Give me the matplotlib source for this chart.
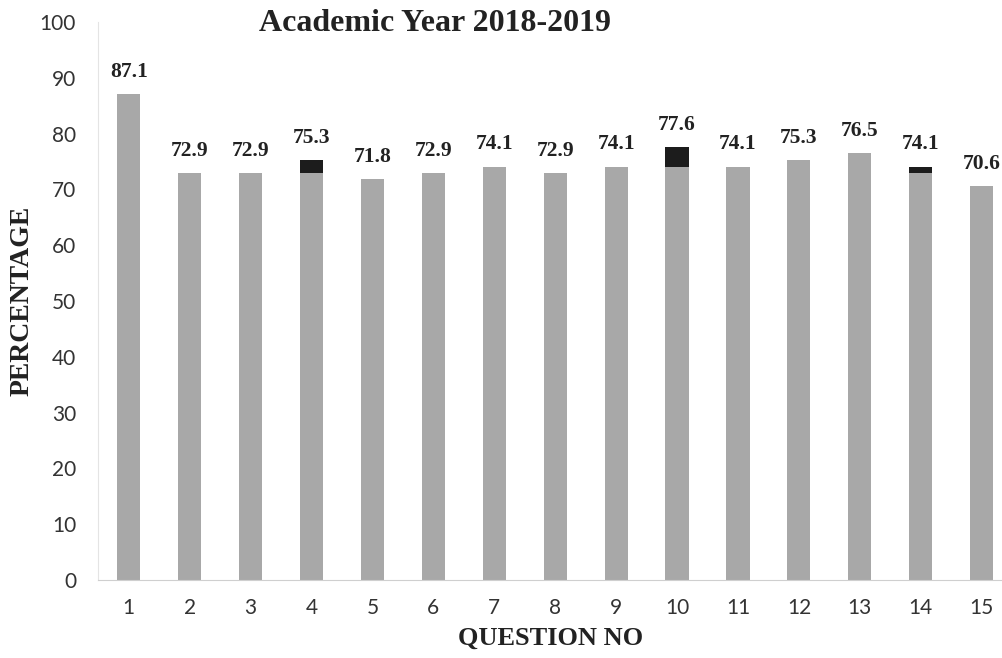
import numpy as np
import matplotlib.pyplot as plt

# question numbers and percentages (labels on top of bars)
questions = list(range(1, 16))
labels = [87.1, 72.9, 72.9, 75.3, 71.8, 72.9, 74.1, 72.9, 74.1, 77.6, 74.1, 75.3, 76.5, 74.1, 70.6]
# grey part of bar and dark part stacked on top (as seen in the scan)
grey_part = [87.1, 72.9, 72.9, 72.9, 71.8, 72.9, 74.1, 72.9, 74.1, 74.1, 74.1, 75.3, 76.5, 72.9, 70.6]
dark_part = [0, 0, 0, 2.4, 0, 0, 0, 0, 0, 3.5, 0, 0, 0, 1.2, 0]

fig = plt.figure(figsize=(10.03, 6.58), dpi=100)
ax = fig.add_axes([0.098, 0.1185, 0.902, 0.848])

x = np.array(questions)
ax.bar(x, grey_part, width=0.38, color='#a8a8a8')
ax.bar(x, dark_part, width=0.38, bottom=grey_part, color='#1c1c1c')

for xi, g, d, lab in zip(x, grey_part, dark_part, labels):
    ax.text(xi, g + d + 2.2, '%.1f' % lab, ha='center', va='bottom',
            family='Liberation Serif', fontweight='bold', fontsize=15.5, color='#222222')

ax.set_xlim(0.5, 15.35)
ax.set_ylim(0, 100)
ax.set_yticks(range(0, 101, 10))
ax.set_xticks(x)
ax.set_xticklabels([str(q) for q in questions], family='Lato', fontsize=15, color='#333333')
for t in ax.get_yticklabels():
    t.set_family('Lato')
    t.set_fontsize(15)
    t.set_color('#333333')
ax.tick_params(axis='y', length=0, pad=16)
ax.tick_params(axis='x', length=0, pad=13)

for s in ['top', 'right']:
    ax.spines[s].set_visible(False)
ax.spines['left'].set_color('#e4e4e4')
ax.spines['bottom'].set_color('#cfcfcf')

ax.set_ylabel('PERCENTAGE', family='Liberation Serif', fontweight='bold', fontsize=20,
              color='#222222')
ax.yaxis.set_label_coords(-0.07, 0.5)
ax.set_xlabel('QUESTION NO', family='Liberation Serif', fontweight='bold', fontsize=19,
              color='#222222', labelpad=6)
fig.text(0.434, 0.964, 'Academic Year 2018-2019', ha='center', va='center',
         family='Liberation Serif', fontweight='bold', fontsize=23, color='#222222')

fig.savefig('out.png', dpi=100)
